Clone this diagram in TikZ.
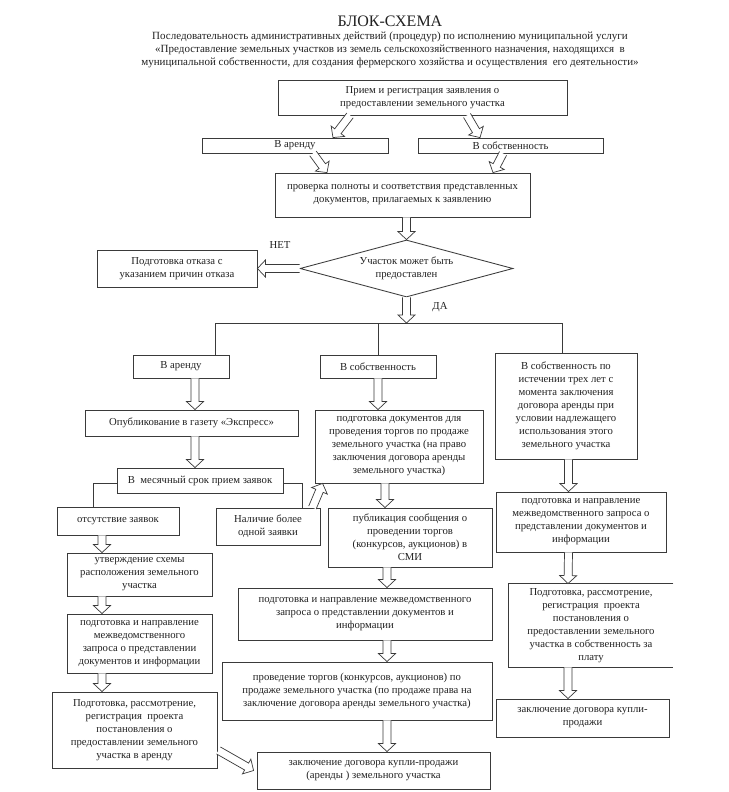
\documentclass[tikz,border=0pt]{standalone}
\usepackage{fontspec}
\setmainfont{Liberation Serif}
\usetikzlibrary{calc,shapes.geometric}
\definecolor{lc}{HTML}{3A3A3A}
\definecolor{txt}{HTML}{222222}
\newcommand\fs{\fontsize{10.7}{13}\selectfont}
\tikzset{
  bx/.style={draw=lc, line width=0.85pt, align=center, inner sep=1pt, font=\fs, text=txt},
  harr/.style={draw=lc, line width=0.7pt, fill=white, line join=miter},
  ln/.style={draw=lc, line width=0.85pt},
  lbl/.style={font=\fs, text=txt},
}
\newcommand\bx[6]{\node[bx, minimum width={#4-#2}, minimum height={#5-#3}] (#1) at ({(#2+#4)/2},{(#3+#5)/2}) {#6};}
\newcommand\harrow[2]{%
  \coordinate (hA) at (#1);
  \coordinate (hB) at (#2);
  \coordinate (hC) at ($(hB)!8pt!(hA)$);
  \draw[harr] ($(hA)!4pt!90:(hB)$) -- ($(hC)!4pt!90:(hB)$) -- ($(hC)!8.5pt!90:(hB)$) -- (hB) -- ($(hC)!8.5pt!-90:(hB)$) -- ($(hC)!4pt!-90:(hB)$) -- ($(hA)!4pt!-90:(hB)$);
}
\begin{document}
\begin{tikzpicture}[x=1pt,y=-1pt]
\useasboundingbox (0,0) rectangle (728,792);
\fill[white] (0,0) rectangle (728,792);

\node[font=\fontsize{16}{18}\selectfont, text=txt] (title) at (390,21) {БЛОК-СХЕМА};
\node[font=\fontsize{11}{13}\selectfont, align=center, text=txt] (sub) at (390,50) {Последовательность административных действий (процедур) по исполнению муниципальной услуги\\«Предоставление земельных участков из земель сельскохозяйственного назначения, находящихся \ в\\муниципальной собственности, для создания фермерского хозяйства и осуществления \ его деятельности»};

% top part
\bx{n1}{278}{80}{567}{115}{Прием и регистрация заявления о\\предоставлении земельного участка}
\bx{n2a}{202}{138}{388}{153}{В аренду}
\bx{n2b}{418}{138}{603}{153}{В собственность}
\bx{n3}{275}{173}{530}{217}{проверка полноты и соответствия представленных\\документов, прилагаемых к заявлению}
\node[draw=lc, line width=0.85pt, diamond, minimum width=213, minimum height=57, aspect=3.74, inner sep=0pt, align=center, font=\fs, text=txt] (dia) at (406.5,268.5) {Участок может быть\\предоставлен};
\bx{rej}{97}{250}{257}{287}{Подготовка отказа с\\указанием причин отказа}
\node[lbl] (net) at (280,245) {НЕТ};
\node[lbl] (da) at (440,307) {ДА};

\harrow{$(n1.south)+(-72.5,0)$}{$(n2a.north)+(38,0)$}
\harrow{$(n1.south)+(44.5,0)$}{$(n2b.north)+(-30.5,0)$}
\harrow{$(n2a.south)+(18,0)$}{$(n3.north)+(-75.5,0)$}
\harrow{$(n2b.south)+(-7.5,0)$}{$(n3.north)+(90.5,0)$}
\harrow{$(n3.south)+(4,0)$}{dia.north}
\harrow{dia.west}{rej.east}
\coordinate (br) at (406.5,323);
\harrow{dia.south}{br}

% second level
\bx{n4a}{133}{355}{229}{378}{В аренду}
\bx{n4b}{320}{355}{436}{378}{В собственность}
\bx{n17}{495}{353}{637}{459}{В собственность по\\истечении трех лет с\\момента заключения\\договора аренды при\\условии надлежащего\\использования этого\\земельного участка}
\coordinate (bl) at (215,323);
\coordinate (brr) at (562,323);
\draw[ln] (n4a.north -| bl) -- (bl) -- (brr) -- (n17.north -| brr);
\draw[ln] (n4b.north) -- (n4b.north |- bl);

% left column
\bx{n5}{85}{410}{298}{436}{Опубликование в газету «Экспресс»}
\bx{n6}{117}{468}{283}{493}{В \ месячный срок прием заявок}
\bx{n7}{57}{507}{179}{535}{отсутствие заявок}
\bx{n8}{216}{508}{320}{545}{Наличие более\\одной заявки}
\bx{n9}{67}{553}{212}{596}{утверждение схемы\\расположения земельного\\участка}
\bx{n11}{67}{614}{212}{673}{подготовка и направление\\межведомственного\\запроса о представлении\\документов и информации}
\bx{n12}{52}{692}{217}{768}{Подготовка, рассмотрение,\\регистрация \ проекта\\постановления о\\предоставлении земельного\\участка в аренду}
\coordinate (c7) at (93,0);
\coordinate (c8) at (302,0);
\draw[ln] ($(n6.west)+(0,2.5)$) -- ($(n6.west -| c7)+(0,2.5)$) -- (n7.north -| c7);
\draw[ln] ($(n6.east)+(0,2.5)$) -- ($(n6.east -| c8)+(0,2.5)$) -- (n8.north -| c8);

% middle column
\bx{n10}{315}{410}{483}{483}{подготовка документов для\\проведения торгов по продаже\\земельного участка (на право\\заключения договора аренды\\земельного участка)}
\bx{n13}{328}{508}{492}{567}{публикация сообщения о\\проведении торгов\\(конкурсов, аукционов) в\\СМИ}
\bx{n14}{238}{588}{492}{640}{подготовка и направление межведомственного\\запроса о представлении документов и\\информации}
\bx{n15}{222}{662}{492}{720}{проведение торгов (конкурсов, аукционов) по\\продаже земельного участка (по продаже права на\\заключение договора аренды земельного участка)}
\bx{n16}{257}{752}{490}{789}{заключение договора купли-продажи\\(аренды ) земельного участка}

% right column
\bx{n18}{496}{492}{666}{552}{подготовка и направление\\межведомственного запроса о\\представлении документов и\\информации}
\node[bx, draw=none, minimum width=164, minimum height=83] (n19) at (591,625.5) {Подготовка, рассмотрение,\\регистрация \ проекта\\постановления о\\предоставлении земельного\\участка в собственность за\\плату};
\draw[ln] (n19.north east) -- (n19.north west) -- (n19.south west) -- (n19.south east);
\bx{n20}{496}{699}{669}{737}{заключение договора купли-\\продажи}

% arrows left
\harrow{$(n4a.south)+(14,0)$}{$(n5.north)+(3.5,0)$}
\harrow{$(n5.south)+(3.5,0)$}{$(n6.north)+(-5,0)$}
\harrow{$(n8.north east)+(-8,0)$}{$(n10.south west)+(8,0)$}
\harrow{$(n7.south)+(-16,0)$}{$(n9.north)+(-37.5,0)$}
\harrow{$(n9.south)+(-37.5,0)$}{$(n11.north)+(-37.5,0)$}
\harrow{$(n11.south)+(-37.5,0)$}{$(n12.north)+(-32.5,0)$}
\harrow{$(n12.south east)+(1,-18)$}{$(n16.west)+(-3,0)$}
% arrows middle
\harrow{n4b.south}{$(n10.north)+(-21,0)$}
\harrow{$(n10.south)+(-14,0)$}{$(n13.north)+(-25,0)$}
\harrow{$(n13.south)+(-23,0)$}{$(n14.north)+(22,0)$}
\harrow{$(n14.south)+(22,0)$}{$(n15.north)+(30,0)$}
\harrow{$(n15.south)+(30,0)$}{$(n16.north)+(13.5,0)$}
% arrows right
\harrow{$(n17.south)+(2.5,0)$}{$(n18.north)+(-12.5,0)$}
\harrow{$(n18.south)+(-12.5,0)$}{$(n19.north)+(-23,0)$}
\harrow{$(n19.south)+(-23,0)$}{$(n20.north)+(-14.5,0)$}
\end{tikzpicture}
\end{document}
